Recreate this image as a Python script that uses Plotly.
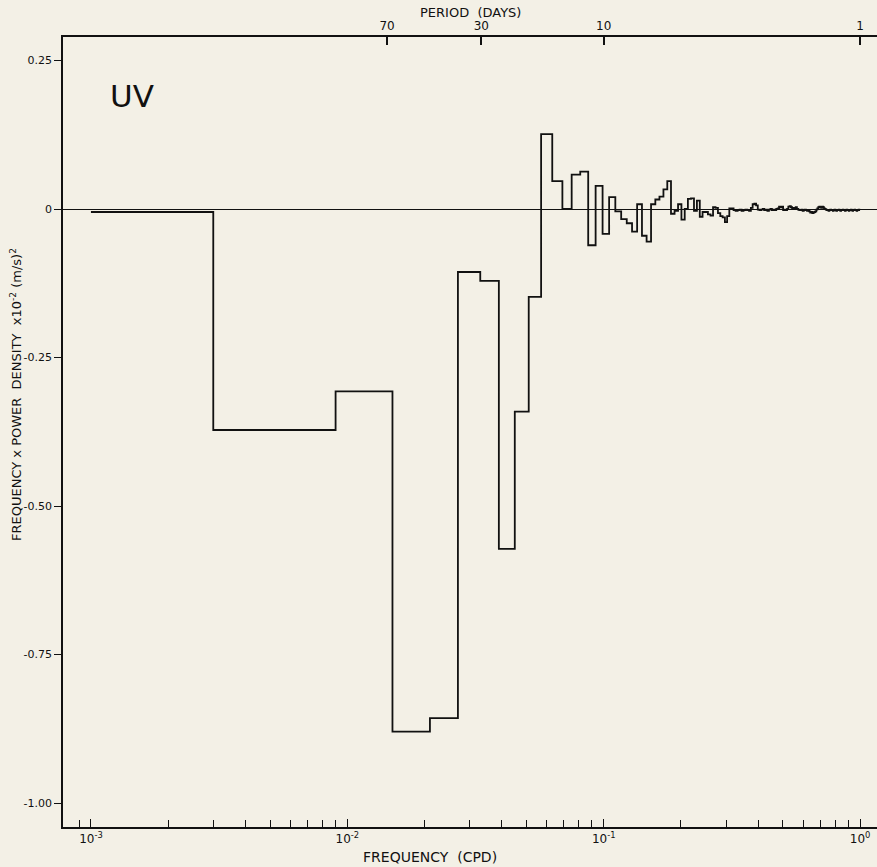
import plotly.graph_objects as go

# ---------------- data ----------------
# first spectral band spans 0.001-0.003 cpd, the others are 0.006 cpd wide
first_band_lo = 0.001
first_band_hi = 0.003
band_width = 0.006

# frequency x power density (x1e-2 (m/s)^2), one value per band
uv_values = [
    -0.005, -0.372, -0.307, -0.880, -0.857, -0.106, -0.121, -0.572, -0.341, -0.148,
    0.126, 0.047, 0.000, 0.058, 0.063, -0.061, 0.039, -0.042, 0.020, -0.004,
    -0.017, -0.024, -0.038, 0.008, -0.045, -0.055, 0.008, 0.016, 0.021, 0.033,
    0.047, -0.008, -0.003, 0.008, -0.018, 0.000, 0.017, 0.018, -0.003, 0.014,
    -0.013, -0.005, -0.005, -0.009, -0.011, 0.003, 0.002, -0.007, -0.012, -0.014,
    -0.022, -0.012, 0.001, 0.001, -0.002, -0.003, -0.002, -0.001, -0.003, -0.002,
    -0.001, -0.002, -0.003, 0.002, 0.008, 0.009, 0.006, -0.001, -0.002, -0.001,
    0.000, -0.002, -0.001, -0.003, -0.001, 0.000, -0.002, -0.001, -0.002, 0.000,
    0.001, 0.004, 0.003, 0.004, -0.002, -0.001, -0.002, 0.000, 0.004, 0.005,
    0.003, 0.001, 0.002, 0.001, 0.003, 0.000, -0.001, -0.002, -0.002, -0.001,
    -0.003, -0.002, -0.001, -0.002, -0.003, -0.003, -0.004, -0.006, -0.005, -0.007,
    -0.006, -0.005, -0.004, -0.001, 0.001, 0.003, 0.004, 0.003, 0.002, 0.004,
    0.003, 0.001, 0.000, -0.001, -0.002, -0.002, -0.003, -0.002, -0.001, -0.002,
    -0.002, -0.003, -0.002, -0.001, -0.002, -0.003, -0.002, -0.002, -0.001, -0.002,
    -0.003, -0.002, -0.002, -0.001, -0.002, -0.002, -0.003, -0.002, -0.001, -0.002,
    -0.002, -0.003, -0.002, -0.002, -0.001, -0.002, -0.003, -0.002, -0.002, -0.001,
    -0.002, -0.002, -0.003, -0.002, -0.002, -0.001, -0.002,
]

y_tick_vals = [0.25, 0, -0.25, -0.5, -0.75, -1.0]
y_tick_text = ["0.25", "0", "-0.25", "-0.50", "-0.75", "-1.00"]

decades = [1e-3, 1e-2, 1e-1, 1e0]
decade_labels = ["10<sup>-3</sup>", "10<sup>-2</sup>", "10<sup>-1</sup>", "10<sup>0</sup>"]

period_days = [70, 30, 10, 1]
period_labels = ["70", "30", "10", "1"]

# ---------------- build step outline ----------------
edges = [first_band_lo] + [first_band_hi + band_width * i for i in range(len(uv_values))]
step_x = edges
step_y = uv_values + [uv_values[-1]]

# bottom axis minor ticks: 2..9 multiples (plus 9e-4)
minor_vals = [9e-4]
for d in decades[:-1]:
    for m in range(2, 10):
        minor_vals.append(d * m)

W, H = 877, 867
ML, MR, MT, MB = 63, 0, 37, 40
PW, PH = W - ML - MR, H - MT - MB
BG = "#f3f0e6"
FONT = "DejaVu Sans"
INK = "#111111"

def px(x):
    return (x - ML) / PW

def py(y):
    return (H - MB - y) / PH

fig = go.Figure()
fig.add_trace(go.Scatter(
    x=step_x, y=step_y, mode="lines", line_shape="hv",
    line=dict(color=INK, width=1.8), showlegend=False, hoverinfo="skip",
))
# invisible trace so that the top axis is drawn
fig.add_trace(go.Scatter(x=[1e-3, 1], y=[0, 0], xaxis="x2", mode="lines",
                         line=dict(width=0), showlegend=False, hoverinfo="skip"))
# invisible trace so that the minor-tick axis is drawn
fig.add_trace(go.Scatter(x=[1e-3, 1], y=[0, 0], xaxis="x3", mode="lines",
                         line=dict(width=0), showlegend=False, hoverinfo="skip"))

xr = [-3.109, 0.066]
fig.update_layout(
    width=W, height=H,
    margin=dict(l=ML, r=MR, t=MT, b=MB, autoexpand=False),
    paper_bgcolor=BG, plot_bgcolor=BG,
    font=dict(family=FONT, color=INK, size=11),
    xaxis=dict(
        type="log", range=xr, showgrid=False, zeroline=False,
        showline=True, linecolor=INK, linewidth=2,
        tickmode="array", tickvals=decades, ticktext=decade_labels, tickangle=0,
        ticks="inside", ticklen=8, tickwidth=1.4, tickcolor=INK,
        tickfont=dict(size=12, family=FONT),
    ),
    xaxis3=dict(
        type="log", range=xr, overlaying="x", side="bottom", anchor="y",
        showgrid=False, zeroline=False, showline=False,
        tickmode="array", tickvals=minor_vals, showticklabels=False,
        ticks="inside", ticklen=7, tickwidth=1.3, tickcolor=INK,
    ),
    xaxis2=dict(
        type="log", range=xr, overlaying="x", side="top", showgrid=False,
        zeroline=False, showline=True, linecolor=INK, linewidth=2,
        tickmode="array", tickvals=[1.0 / p for p in period_days], ticktext=period_labels,
        ticks="inside", ticklen=8, tickwidth=1.5, tickcolor=INK, tickangle=0,
        tickfont=dict(size=12, family=FONT),
    ),
    yaxis=dict(
        range=[-1.0404, 0.2896], showgrid=False,
        zeroline=True, zerolinecolor=INK, zerolinewidth=1.2,
        showline=True, linecolor=INK, linewidth=1.6,
        tickmode="array", tickvals=y_tick_vals, ticktext=y_tick_text,
        ticks="outside", ticklen=7, tickwidth=1.2, tickcolor=INK,
        tickfont=dict(size=11, family=FONT),
    ),
    annotations=[
        dict(text="UV", x=px(132), y=py(96), xref="paper", yref="paper",
             showarrow=False, font=dict(size=31, family=FONT, color=INK),
             xanchor="center", yanchor="middle"),
        dict(text="PERIOD  (DAYS)", x=px(470), y=py(12), xref="paper", yref="paper",
             showarrow=False, font=dict(size=13, family=FONT, color=INK),
             xanchor="center", yanchor="middle"),
        dict(text="FREQUENCY  (CPD)", x=px(430), y=py(857), xref="paper", yref="paper",
             showarrow=False, font=dict(size=14, family=FONT, color=INK),
             xanchor="center", yanchor="middle"),
        dict(text="FREQUENCY x POWER  DENSITY  x10<sup>-2</sup> (m/s)<sup>2</sup>",
             x=px(16), y=py(395), xref="paper", yref="paper", textangle=-90,
             showarrow=False, font=dict(size=13, family=FONT, color=INK),
             xanchor="center", yanchor="middle"),
    ],
)

fig.write_html("out.html", config={"displayModeBar": False},
               post_script="document.body.style.margin='0';document.body.style.background='%s';" % BG)
